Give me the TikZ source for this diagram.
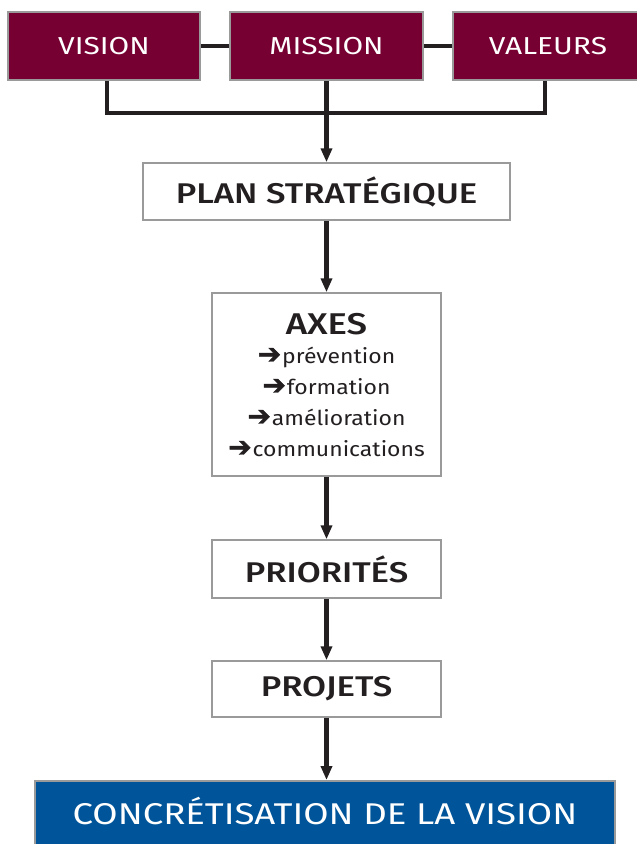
\documentclass[tikz,border=0pt]{standalone}
\usepackage{fontspec}
\setmainfont{Fira Sans}[FakeStretch=1.22]
\newfontfamily\semib{Fira Sans Medium}[FakeStretch=1.22]
\newfontfamily\listf{Fira Sans}[FakeStretch=1.12]
\newfontfamily\dejavu{DejaVu Sans}[FakeBold=1.5]
\usetikzlibrary{arrows.meta}
\definecolor{burg}{HTML}{770033}
\definecolor{blueb}{HTML}{00559A}
\definecolor{bord}{HTML}{9A9A9A}
\definecolor{ink}{HTML}{231F20}
\newcommand\barr{{\dejavu\fontsize{28}{31}\selectfont ➔}\hspace{1pt}}
\begin{document}
\begin{tikzpicture}[x=1pt,y=-1pt,
  topbox/.style={draw=bord,line width=1.5pt,fill=burg,text=white,inner sep=0pt,
    font=\fontsize{24.5}{26}\selectfont},
  whitebox/.style={draw=bord,line width=1.5pt,fill=white,text=ink,inner sep=0pt,
    font=\semib\fontsize{28.5}{32}\selectfont},
  conn/.style={draw=ink,line width=4.5pt},
  arr/.style={conn,-{Triangle[length=14pt,width=11pt]}}]
\useasboundingbox (0,0) rectangle (637,844);
\begin{scope}
\clip (0,0) rectangle (637,844);
\node[topbox,minimum width=192pt,minimum height=68pt] (vision) at (104,46) {VISION};
\node[topbox,minimum width=193pt,minimum height=68pt] (mission) at (326.5,46) {MISSION};
\node[topbox,minimum width=200pt,minimum height=68pt,anchor=west] (valeurs) at (452,46) {};
\node[text=white,font=\fontsize{24.5}{26}\selectfont] (valt) at (548,46) {VALEURS};
\node[whitebox,minimum width=367pt,minimum height=57pt] (plan) at (326.5,191.5) {PLAN STRATÉGIQUE};
\node[whitebox,minimum width=229pt,minimum height=183pt] (axes) at (326.5,384.5) {};
\node[text=ink,font=\semib\fontsize{30}{34}\selectfont] (axt) at (326.5,324) {AXES};
\node[text=ink,font=\listf\fontsize{20.5}{31}\selectfont,align=center] (axl) at (326.5,402)
  {\barr prévention\\\barr formation\\\barr amélioration\\\barr communications};
\node[whitebox,minimum width=229pt,minimum height=58pt] (prio) at (326.5,569) {PRIORITÉS};
\node[whitebox,minimum width=229pt,minimum height=56pt] (proj) at (326.5,689) {PROJETS};
\node[draw=bord,line width=1.5pt,fill=blueb,inner sep=0pt,minimum width=580pt,
  minimum height=80pt,anchor=north] (conc) at (325,780) {};
\node[text=white,font=\fontsize{30}{32}\selectfont] (conct) at (325,811) {CONCRÉTISATION DE LA VISION};
\end{scope}
\coordinate (j1) at (107,113);
\coordinate (j2) at (545,113);
\draw[conn] (vision.east) -- (mission.west);
\draw[conn] (mission.east) -- (valeurs.west);
\draw[conn] (vision.south -| j1) -- (j1) -- (j2) -- (valeurs.south -| j2);
\draw[arr] (mission.south) -- (plan.north);
\draw[arr] (plan.south) -- (axes.north);
\draw[arr] (axes.south) -- (prio.north);
\draw[arr] (prio.south) -- (proj.north);
\draw[arr] (proj.south) -- (proj.south |- conc.north);
\end{tikzpicture}
\end{document}
